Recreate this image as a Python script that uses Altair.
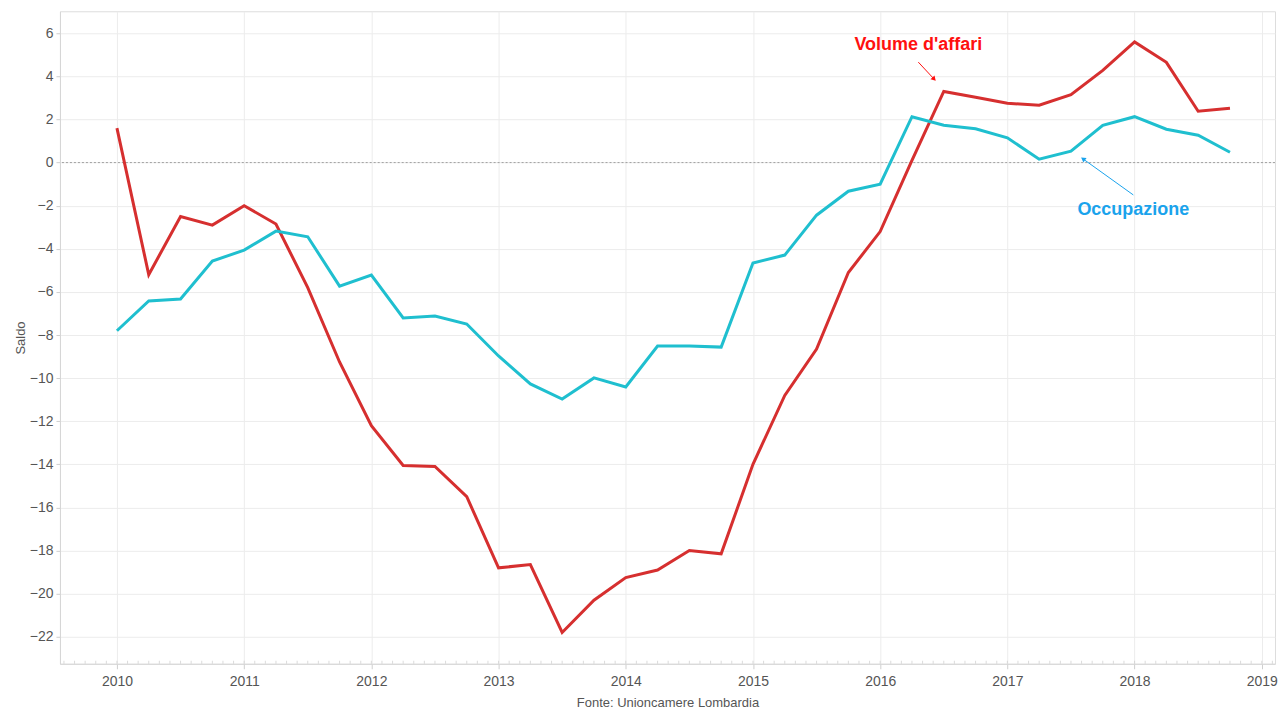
import altair as alt
import pandas as pd

quarters = [2010 + 0.25 * i for i in range(36)]
volume = [1.6, -5.2, -2.5, -2.9, -2.0, -2.85, -5.8, -9.25,
          -12.2, -14.05, -14.1, -15.5, -18.8, -18.65, -21.8, -20.3,
          -19.25, -18.9, -18.0, -18.15, -14.0, -10.8, -8.65, -5.1,
          -3.2, 0.1, 3.3, 3.03, 2.75, 2.66, 3.15, 4.28,
          5.6, 4.65, 2.38, 2.52]
occupazione = [-7.8, -6.42, -6.33, -4.57, -4.06, -3.18, -3.44, -5.73,
               -5.22, -7.21, -7.12, -7.49, -8.97, -10.27, -10.97, -9.99,
               -10.41, -8.51, -8.51, -8.56, -4.66, -4.29, -2.44, -1.33,
               -1.0, 2.13, 1.73, 1.57, 1.15, 0.16, 0.53, 1.73,
               2.13, 1.55, 1.27, 0.48]
series_names = ["Volume d'affari", "Occupazione"]
line_colors = ["#d62f2f", "#1fbfcf"]
year_ticks = list(range(2010, 2020))
y_ticks = list(range(-22, 7, 2))
month_ticks = [2009 + (7 + m) / 12 for m in range(0, 125)]

rows = []
for q, v, o in zip(quarters, volume, occupazione):
    rows.append({"t": q, "val": v, "serie": series_names[0]})
    rows.append({"t": q, "val": o, "serie": series_names[1]})
df = pd.DataFrame(rows)

xdom = [2009.552, 2019.104]
ydom = [-23.25, 7.02]
xs = alt.Scale(domain=xdom, nice=False, zero=False)
ys = alt.Scale(domain=ydom, nice=False, zero=False)

axis_common = dict(labelColor="#555555", labelFont="Liberation Sans", labelFontSize=14,
                   titleFont="Liberation Sans", titleColor="#555555", titleFontWeight="normal",
                   gridColor="#ececec", domainColor="#d6d6d6", tickColor="#cfcfcf")

lines = alt.Chart(df).mark_line(strokeWidth=3).encode(
    x=alt.X("t:Q", scale=xs,
            axis=alt.Axis(values=year_ticks, format="d", tickSize=5, labelPadding=6,
                          title="Fonte: Unioncamere Lombardia", titleFontSize=13,
                          titlePadding=8, **axis_common)),
    y=alt.Y("val:Q", scale=ys,
            axis=alt.Axis(values=y_ticks, tickSize=4, labelPadding=3, title="Saldo",
                          titleFontSize=13, titlePadding=2, **axis_common)),
    color=alt.Color("serie:N", scale=alt.Scale(domain=series_names, range=line_colors), legend=None),
)

zero = alt.Chart(pd.DataFrame({"z": [0]})).mark_rule(
    color="#a0a0a0", strokeDash=[2, 2], strokeWidth=1).encode(y=alt.Y("z:Q", scale=ys))

minor = alt.Chart(pd.DataFrame({"m": month_ticks})).mark_tick(
    orient="vertical", color="#cccccc", size=3, thickness=1).encode(
    x=alt.X("m:Q", scale=xs), y=alt.value(651.5))

ann = pd.DataFrame({
    "label": ["Volume d'affari", "Occupazione"],
    "tx": [2016.30, 2017.99], "ty": [5.44, -2.2],
    "color": ["#ff1010", "#1aa3ec"],
})
ann_text = alt.Chart(ann).mark_text(fontSize=18, fontWeight="bold", font="Liberation Sans").encode(
    x=alt.X("tx:Q", scale=xs), y=alt.Y("ty:Q", scale=ys), text="label:N",
    color=alt.Color("color:N", scale=None))

arr = pd.DataFrame({
    "x1": [2016.30, 2017.99], "y1": [4.66, -1.5],
    "x2": [2016.42, 2017.60], "y2": [3.90, 0.15],
    "ang": [137, 305], "color": ["#ff1010", "#1aa3ec"],
})
arr_line = alt.Chart(arr).mark_rule(strokeWidth=1).encode(
    x=alt.X("x1:Q", scale=xs), y=alt.Y("y1:Q", scale=ys),
    x2="x2:Q", y2="y2:Q", color=alt.Color("color:N", scale=None))
arr_head = alt.Chart(arr).mark_point(shape="triangle", filled=True, size=30, opacity=1).encode(
    x=alt.X("x2:Q", scale=xs), y=alt.Y("y2:Q", scale=ys),
    angle=alt.Angle("ang:Q", scale=None), color=alt.Color("color:N", scale=None))

chart = alt.layer(zero, minor, lines, arr_line, arr_head, ann_text).properties(
    width=1216, height=653,
    autosize=alt.AutoSizeParams(type="none"),
    padding={"left": 52, "top": 3, "right": 4, "bottom": 46},
).configure_view(stroke="#dcdcdc").configure(background="white")

chart.save("out.html", embed_options={"renderer": "svg", "actions": False})
